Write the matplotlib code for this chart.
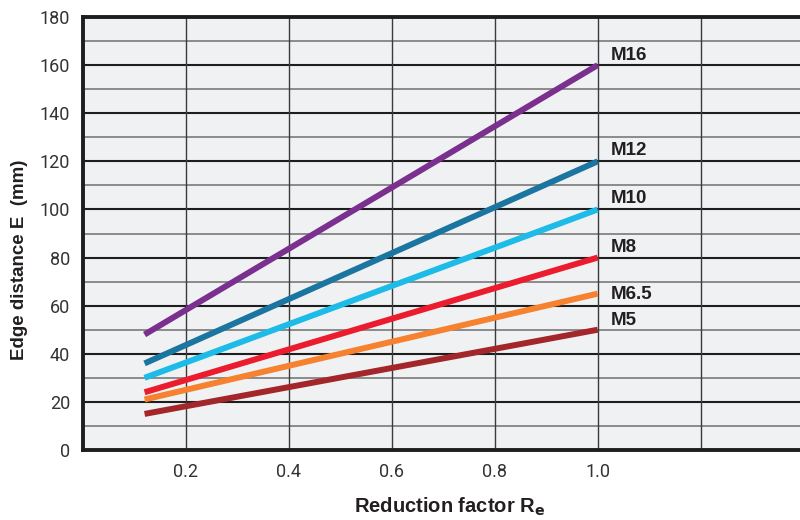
import matplotlib
matplotlib.use("Agg")
import matplotlib.pyplot as plt
import numpy as np

# Data
series_names = ["M16", "M12", "M10", "M8", "M6.5", "M5"]
x_start = 0.12
x_end = 1.0
y_start = [48, 36, 30, 24, 21, 15]
y_end = [160, 120, 100, 80, 65, 50]
label_y = [164, 124.5, 104.5, 84, 64.5, 54]
colors = ["#7b2f8e", "#1a75a0", "#1cbbe8", "#ec1c2f", "#f6812e", "#a3262a"]
x_ticks = [0.2, 0.4, 0.6, 0.8, 1.0]
x_ticklabels = ["0.2", "0.4", "0.6", "0.8", "1.0"]
y_ticks = [0, 20, 40, 60, 80, 100, 120, 140, 160, 180]

fig = plt.figure(figsize=(8, 5.2), dpi=100)
ax = fig.add_axes([0.1035, 0.1346, 0.901, 0.8327])
ax.set_facecolor("#f0f1f3")
ax.set_xlim(0, 1.4)
ax.set_ylim(0, 180)

# grid
for v in range(10, 180, 20):
    ax.axhline(v, color="#7a7a7a", lw=1.2, zorder=1)
for v in range(20, 180, 20):
    ax.axhline(v, color="#1e1e1e", lw=1.5, zorder=1)
for v in [0.2, 0.4, 0.6, 0.8, 1.0, 1.2]:
    ax.axvline(v, color="#3a3a3a", lw=1.0, zorder=1)

for name, ys, ye, ly, c in zip(series_names, y_start, y_end, label_y, colors):
    ax.plot([x_start, x_end], [ys, ye], color=c, lw=4.3, solid_capstyle="butt", zorder=3)
    ax.text(1.025, ly, name, fontsize=13.5, fontweight="bold", color="#231f20",
            va="center", ha="left", family="Liberation Sans", zorder=4)

for s in ["left", "top", "bottom"]:
    ax.spines[s].set_linewidth(2.8)
    ax.spines[s].set_color("#1e1e1e")
ax.spines["right"].set_visible(False)

ax.set_xticks(x_ticks)
ax.set_xticklabels(x_ticklabels)
ax.set_yticks(y_ticks)
ax.tick_params(axis="both", length=0, labelsize=13, labelcolor="#333333")
ax.tick_params(axis="x", pad=9)
ax.tick_params(axis="y", pad=9)
for lab in ax.get_xticklabels() + ax.get_yticklabels():
    lab.set_family("Roboto")
    lab.set_fontweight("normal")

fig.text(0.5625, 0.003, r"Reduction factor R$_\mathbf{e}$", ha="center", va="bottom",
         fontsize=14.5, fontweight="bold", color="#231f20", family="Liberation Sans")
fig.text(0.024, 0.5, "Edge distance E  (mm)", rotation=90, ha="center", va="center",
         fontsize=13.5, fontweight="bold", color="#231f20", family="Liberation Sans")

fig.savefig("out.png", dpi=100)
